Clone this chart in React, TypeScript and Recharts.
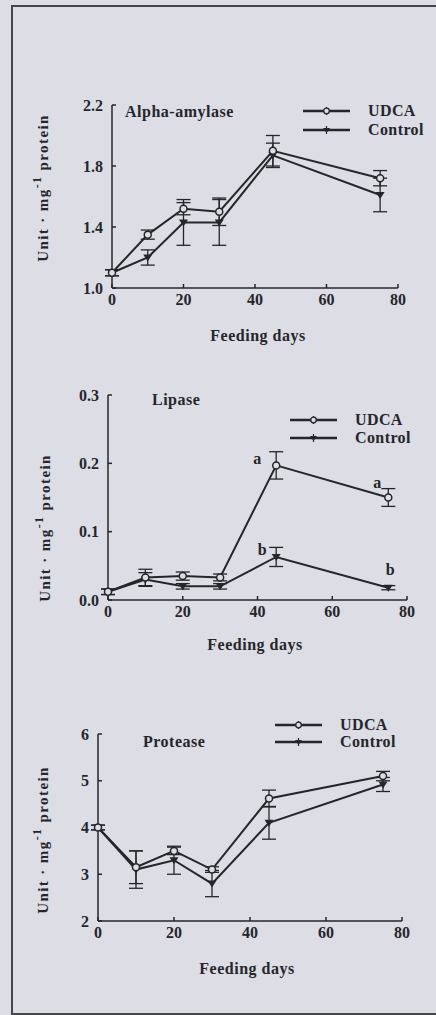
import { LineChart, Line, XAxis, YAxis, ErrorBar, Legend, LabelList, Label } from "recharts";

const days = [0, 10, 20, 30, 45, 75];
const dayTicks = [0, 20, 40, 60, 80];
const seriesNames = ["UDCA", "Control"];

// alpha-amylase
const amylaseUdca = [1.1, 1.35, 1.52, 1.5, 1.9, 1.72];
const amylaseUdcaErr = [0.02, 0.03, 0.04, 0.09, 0.1, 0.05];
const amylaseControl = [1.1, 1.2, 1.43, 1.43, 1.87, 1.61];
const amylaseControlErr = [0.02, 0.05, 0.15, 0.15, 0.08, 0.11];
const amylaseTicks = [1.0, 1.4, 1.8, 2.2];

// lipase
const lipaseUdca = [0.012, 0.033, 0.035, 0.033, 0.197, 0.15];
const lipaseUdcaErr = [0.004, 0.012, 0.006, 0.005, 0.02, 0.013];
const lipaseControl = [0.012, 0.03, 0.02, 0.02, 0.063, 0.018];
const lipaseControlErr = [0.004, 0.01, 0.004, 0.004, 0.014, 0.003];
const lipaseUdcaSig = ["", "", "", "", "a", "a"];
const lipaseControlSig = ["", "", "", "", "b", "b"];
const lipaseTicks = [0, 0.1, 0.2, 0.3];

// protease
const proteaseUdca = [4.0, 3.15, 3.5, 3.1, 4.62, 5.1];
const proteaseUdcaErr = [0.05, 0.35, 0.08, 0.06, 0.18, 0.1];
const proteaseControl = [4.0, 3.1, 3.3, 2.8, 4.1, 4.92];
const proteaseControlErr = [0.05, 0.4, 0.3, 0.28, 0.35, 0.15];
const proteaseTicks = [2, 3, 4, 5, 6];

const INK = "#26262a";
const BG = "#dcdde5";
const FONT = '"Liberation Serif", "Times New Roman", serif';

const build = (u: number[], ue: number[], c: number[], ce: number[], us?: string[], cs?: string[]) =>
  days.map((d, i) => ({
    day: d,
    udca: u[i],
    udcaErr: ue[i],
    control: c[i],
    controlErr: ce[i],
    udcaSig: us ? us[i] : "",
    controlSig: cs ? cs[i] : "",
  }));

const openDot = (p: any) => (
  <circle key={`o-${p.index}`} cx={p.cx} cy={p.cy} r={3.5} fill={BG} stroke={INK} strokeWidth={1.5} />
);
const triDot = (p: any) => (
  <path
    key={`t-${p.index}`}
    d={`M${p.cx - 4.5},${p.cy - 3} L${p.cx + 4.5},${p.cy - 3} L${p.cx},${p.cy + 4} Z`}
    fill={INK}
  />
);

const LegendBox = ({ rowH }: { rowH: number }) => (
  <div style={{ fontFamily: FONT, fontWeight: 700, fontSize: 16, letterSpacing: 0.4, color: INK }}>
    {seriesNames.map((n, i) => (
      <div key={n} style={{ display: "flex", alignItems: "center", height: rowH }}>
        <svg width={47} height={12} style={{ display: "block" }}>
          <line x1={0} y1={6} x2={47} y2={6} stroke={INK} strokeWidth={2.4} />
          <line x1={23.5} y1={2} x2={23.5} y2={10} stroke={INK} strokeWidth={1.2} />
          {i === 0 ? (
            <circle cx={23.5} cy={6} r={2.8} fill={BG} stroke={INK} strokeWidth={1.3} />
          ) : (
            <path d="M20,4 L27,4 L23.5,9 Z" fill={INK} />
          )}
        </svg>
        <span style={{ marginLeft: 18 }}>{n}</span>
      </div>
    ))}
  </div>
);

const yTitle = (x: number, y: number) => () => (
  <text
    x={x}
    y={y}
    transform={`rotate(-90 ${x} ${y})`}
    textAnchor="middle"
    dominantBaseline="central"
    fontFamily={FONT}
    fontWeight={700}
    fontSize={15}
    letterSpacing={1.4}
    fill={INK}
  >
    Unit · mg
    <tspan dy={-6} fontSize={12}>-1</tspan>
    <tspan dy={6}> protein</tspan>
  </text>
);

const xTitle = (x: number, y: number) => () => (
  <text
    x={x}
    y={y}
    textAnchor="middle"
    dominantBaseline="central"
    fontFamily={FONT}
    fontWeight={700}
    fontSize={16}
    letterSpacing={0.5}
    fill={INK}
  >
    Feeding days
  </text>
);

const sigLabel = (p: any) => {
  const { x, y, value, index } = p;
  if (!value) return null;
  let dx = 0;
  let dy = 0;
  if (value === "a") {
    dx = index === 4 ? -19 : -11;
    dy = index === 4 ? -7 : -15;
  } else {
    dx = index === 4 ? -14 : 2;
    dy = index === 4 ? -7 : -18;
  }
  return (
    <text
      key={`s-${value}-${index}`}
      x={x + dx}
      y={y + dy}
      textAnchor="middle"
      dominantBaseline="central"
      fontFamily={FONT}
      fontWeight={700}
      fontSize={16}
      fill={INK}
    >
      {value}
    </text>
  );
};

type PanelProps = {
  data: any[];
  top: number;
  height: number;
  marginTop: number;
  marginRight: number;
  yWidth: number;
  xHeight: number;
  yDomain: [number, number];
  yTicks: number[];
  fmt: (v: number) => string;
  title: string;
  titleX: number;
  titleY: number;
  legendX: number;
  legendY: number;
  legendRow: number;
  yLabel: [number, number];
  xLabel: [number, number];
  sig?: boolean;
};

const tickStyle = { fontFamily: FONT, fontWeight: 700, fontSize: 16, fill: INK };

function Panel(p: PanelProps) {
  return (
    <div style={{ position: "absolute", left: 0, top: p.top, width: 436, height: p.height }}>
      <LineChart
        width={436}
        height={p.height}
        data={p.data}
        margin={{ top: p.marginTop, right: p.marginRight, left: 0, bottom: 0 }}
      >
        <XAxis
          dataKey="day"
          type="number"
          domain={[0, 80]}
          ticks={dayTicks}
          height={p.xHeight}
          stroke={INK}
          strokeWidth={1.5}
          tickSize={-4}
          tickMargin={10}
          tick={tickStyle}
          interval={0}
        >
          <Label content={xTitle(p.xLabel[0], p.xLabel[1])} />
        </XAxis>
        <YAxis
          type="number"
          domain={p.yDomain}
          ticks={p.yTicks}
          width={p.yWidth}
          stroke={INK}
          strokeWidth={1.5}
          tickSize={-4}
          tickMargin={13}
          tick={tickStyle}
          tickFormatter={p.fmt}
          interval={0}
        >
          <Label content={yTitle(p.yLabel[0], p.yLabel[1])} />
        </YAxis>
        <Legend
          layout="horizontal"
          verticalAlign="middle"
          align="center"
          content={() => <LegendBox rowH={p.legendRow} />}
          wrapperStyle={{ left: p.legendX, top: p.legendY, width: "auto" }}
        />
        <Line
          name="Control"
          dataKey="control"
          stroke={INK}
          strokeWidth={2}
          dot={triDot}
          isAnimationActive={false}
        >
          <ErrorBar dataKey="controlErr" width={7} stroke={INK} strokeWidth={1.3} isAnimationActive={false} />
          {p.sig && <LabelList dataKey="controlSig" content={sigLabel} />}
        </Line>
        <Line
          name="UDCA"
          dataKey="udca"
          stroke={INK}
          strokeWidth={2}
          dot={openDot}
          isAnimationActive={false}
        >
          <ErrorBar dataKey="udcaErr" width={7} stroke={INK} strokeWidth={1.3} isAnimationActive={false} />
          {p.sig && <LabelList dataKey="udcaSig" content={sigLabel} />}
        </Line>
      </LineChart>
      <div
        style={{
          position: "absolute",
          left: p.titleX,
          top: p.titleY - 9,
          fontFamily: FONT,
          fontWeight: 700,
          fontSize: 16,
          letterSpacing: 0.5,
          color: INK,
          lineHeight: "18px",
        }}
      >
        {p.title}
      </div>
    </div>
  );
}

export default function App() {
  return (
    <div style={{ position: "absolute", left: 0, top: 0, width: 436, height: 1015, background: BG, overflow: "hidden" }}>
      <div
        style={{
          position: "absolute",
          left: 11,
          top: 5,
          width: 440,
          height: 1006,
          borderLeft: "2px solid #45454c",
          borderTop: "2px solid #45454c",
          borderBottom: "2px solid #45454c",
        }}
      />
      <Panel
        data={build(amylaseUdca, amylaseUdcaErr, amylaseControl, amylaseControlErr)}
        top={90}
        height={260}
        marginTop={15}
        marginRight={38}
        yWidth={112}
        xHeight={62}
        yDomain={[1.0, 2.2]}
        yTicks={amylaseTicks}
        fmt={(v) => v.toFixed(1)}
        title="Alpha-amylase"
        titleX={125}
        titleY={22}
        legendX={303}
        legendY={11}
        legendRow={19}
        yLabel={[43, 98]}
        xLabel={[258, 245]}
      />
      <Panel
        data={build(lipaseUdca, lipaseUdcaErr, lipaseControl, lipaseControlErr, lipaseUdcaSig, lipaseControlSig)}
        top={380}
        height={280}
        marginTop={15}
        marginRight={29}
        yWidth={108}
        xHeight={60}
        yDomain={[0, 0.3]}
        yTicks={lipaseTicks}
        fmt={(v) => v.toFixed(1)}
        title="Lipase"
        titleX={152}
        titleY={20}
        legendX={290}
        legendY={31}
        legendRow={18}
        yLabel={[45, 148]}
        xLabel={[255, 264]}
        sig
      />
      <Panel
        data={build(proteaseUdca, proteaseUdcaErr, proteaseControl, proteaseControlErr)}
        top={715}
        height={275}
        marginTop={19}
        marginRight={34}
        yWidth={98}
        xHeight={69}
        yDomain={[2, 6]}
        yTicks={proteaseTicks}
        fmt={(v) => String(v)}
        title="Protease"
        titleX={143}
        titleY={27}
        legendX={275}
        legendY={1}
        legendRow={17}
        yLabel={[43, 125]}
        xLabel={[247, 253]}
      />
    </div>
  );
}
